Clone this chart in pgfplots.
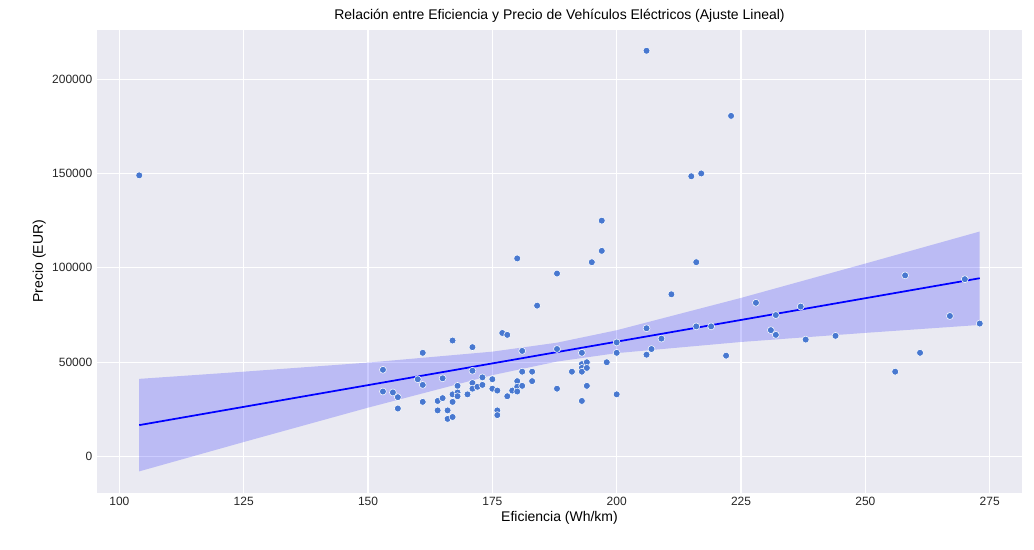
\documentclass[border=0pt]{standalone}
\usepackage{pgfplots}
\pgfplotsset{compat=1.18}
\usepackage{fontspec}
\setmainfont{Liberation Sans}
\usetikzlibrary{calc}
\definecolor{bg}{HTML}{EAEAF2}
\definecolor{pt}{HTML}{4878D0}
\begin{document}
\begin{tikzpicture}
\begin{axis}[name=ax, scale only axis, width=694pt, height=347pt,
 xmin=95.5, xmax=281.5, ymin=-19000, ymax=226000,
 axis background/.style={fill=bg}, axis line style={draw=none},
 grid=major, major grid style={white, line width=0.8pt},
 tick style={draw=none},
 xtick={100,125,150,175,200,225,250,275}, xticklabels={100,125,150,175,200,225,250,275},
 ytick={0,50000,100000,150000,200000}, yticklabels={0,50000,100000,150000,200000},
 scaled y ticks=false,
 ticklabel style={font=\fontsize{9}{10}\selectfont, text=black!85},
 xlabel={Eficiencia (Wh/km)}, ylabel={Precio (EUR)},
 label style={font=\fontsize{10.5}{12}\selectfont},
 title={Relación entre Eficiencia y Precio de Vehículos Eléctricos (Ajuste Lineal)},
 title style={font=\fontsize{10.5}{12}\selectfont, yshift=-4pt},
 xlabel style={yshift=3pt}, ylabel style={yshift=-2pt}]
\addplot[draw=none, fill=blue, fill opacity=0.2] coordinates {
(104,-7800)(125,7740)(150,25950)(175,43170)(188,50370)(200,54840)(225,60740)(250,65560)(273,69770)
(273,119250)(250,102280)(225,84080)(200,66960)(188,60370)(175,55610)(150,49810)(125,45000)(104,41200)} -- cycle;
\addplot[blue, line width=1.3pt] coordinates {(104,16700)(273,94510)};
\addplot[only marks, mark=*, mark size=2.6pt, mark options={fill=pt, draw=white, line width=0.4pt}] coordinates {
(104,149000)(153,46000)(153,34500)(155,34000)(156,31500)(156,25500)(160,41000)(161,55000)(161,38000)(161,29000)
(164,29500)(164,24500)(165,41500)(165,31000)(166,20000)(166,24500)(167,61500)(167,33000)(167,29000)(167,21000)
(168,37500)(168,34000)(168,32000)(170,33000)(171,58000)(171,45500)(171,39000)(171,36000)(172,37000)(173,42000)
(173,38000)(175,41000)(175,36000)(176,35000)(176,24500)(176,22000)(177,65500)(178,64500)(178,32000)(179,35000)
(180,105000)(180,40000)(180,37000)(180,34500)(181,56000)(181,45000)(181,37500)(183,45000)(183,40000)(184,80000)
(188,97000)(188,57000)(188,36000)(191,45000)(193,55000)(193,49000)(193,47000)(193,45000)(193,29500)(194,50000)
(194,47000)(194,37500)(195,103000)(197,125000)(197,109000)(198,50000)(200,60500)(200,55000)(200,33000)(206,215000)
(206,68000)(206,54000)(207,57000)(209,62500)(211,86000)(215,148500)(216,103000)(216,69000)(217,150000)(219,69000)
(222,53500)(223,180500)(228,81500)(231,67000)(232,75000)(232,64500)(237,79500)(238,62000)(244,64000)(256,45000)
(258,96000)(261,55000)(267,74500)(270,94000)(273,70500)};
\end{axis}
\useasboundingbox ($(ax.south west)+(-72.75pt,-42.75pt)$) rectangle ($(ax.north east)+(9pt,22.5pt)$);
\end{tikzpicture}
\end{document}
